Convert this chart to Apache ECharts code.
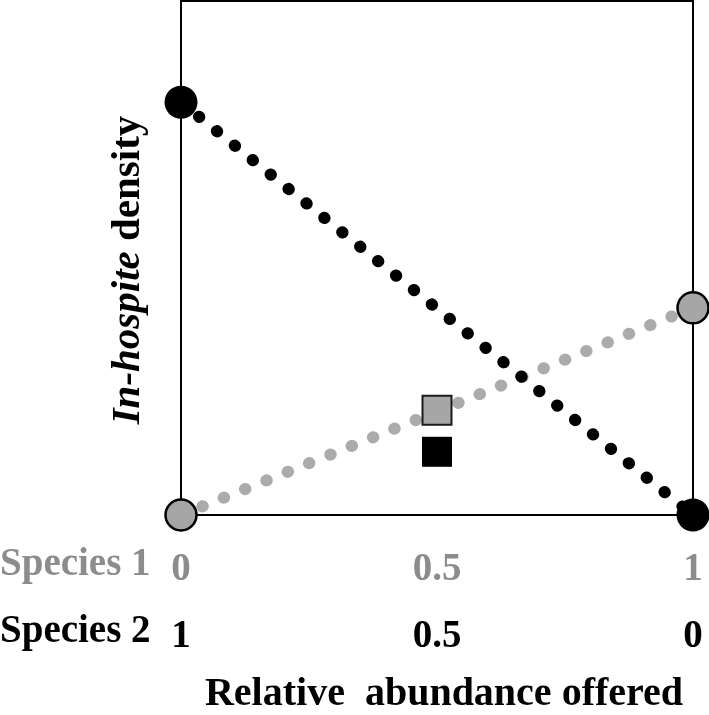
<!DOCTYPE html>
<html>
<head>
<meta charset="utf-8">
<script src="https://cdn.jsdelivr.net/npm/echarts@6/dist/echarts.min.js"></script>
<style>
  html, body { margin: 0; padding: 0; background: #fff; }
  #main { width: 709px; height: 715px; }
</style>
</head>
<body>
<div id="main"></div>
<script>
(function() {
    'use strict';

    // 数据
    var xTicks = [0, 0.5, 1];
    var species1Labels = ['0', '0.5', '1'];
    var species2Labels = ['1', '0.5', '0'];
    var rowNames = ['Species 1', 'Species 2'];
    // species 2 (black) line and species 1 (grey) line
    var blackLine = [[0, 0.803], [1, 0]];
    var greyLine = [[0, 0], [1, 0.403]];
    // observed points at 0.5
    var greySquare = [[0.5, 0.204]];
    var blackSquare = [[0.5, 0.123]];

    var FONT = '"Liberation Serif", "Times New Roman", serif';
    var GREY_TXT = '#8c8c8c';

    var myChart = echarts.init(document.getElementById('main'), null, {renderer: 'canvas'});

    var option = {
        animation: false,
        backgroundColor: '#fff',
        grid: {
            left: 181, right: 16, top: 1, bottom: 200,
            outerBoundsMode: 'none',
            containLabel: false,
            show: true, borderColor: '#000', borderWidth: 2
        },
        xAxis: {
            type: 'value', min: 0, max: 1, interval: 0.5,
            axisLine: {show: false}, axisTick: {show: false}, splitLine: {show: false},
            axisLabel: {
                margin: 21,
                verticalAlign: 'top',
                formatter: function (v) {
                    var i = xTicks.indexOf(v);
                    if (i < 0) return '';
                    return '{g|' + species1Labels[i] + '}\n{b|' + species2Labels[i] + '}';
                },
                rich: {
                    g: {fontFamily: FONT, fontWeight: 'bold', fontSize: 39, color: GREY_TXT, lineHeight: 67},
                    b: {fontFamily: FONT, fontWeight: 'bold', fontSize: 39, color: '#000', lineHeight: 67}
                }
            },
            name: 'Relative  abundance offered',
            nameLocation: 'middle',
            nameGap: 160,
            nameTextStyle: {fontFamily: FONT, fontWeight: 'bold', fontSize: 40, color: '#000', verticalAlign: 'top', padding: [0, 0, 0, 14]}
        },
        yAxis: {
            type: 'value', min: 0, max: 1,
            axisLine: {show: false}, axisTick: {show: false}, splitLine: {show: false},
            axisLabel: {show: false},
            name: '{i|In-hospite} density',
            nameLocation: 'middle',
            nameGap: 32,
            nameTextStyle: {
                fontFamily: FONT, fontWeight: 'bold', fontSize: 41, color: '#000',
                padding: [0, 24, 0, 0],
                rich: {
                    i: {fontFamily: FONT, fontWeight: 'bold', fontStyle: 'italic', fontSize: 41, color: '#000'}
                }
            }
        },
        graphic: [
            {type: 'text', left: 0, top: 545, style: {text: rowNames[0], font: 'bold 39px ' + FONT, fill: GREY_TXT}},
            {type: 'text', left: 0, top: 612, style: {text: rowNames[1], font: 'bold 39px ' + FONT, fill: '#000'}}
        ],
        series: [
            {
                type: 'line', data: greyLine, clip: false,
                symbol: 'circle', symbolSize: 31,
                itemStyle: {color: '#a6a6a6', borderColor: '#000', borderWidth: 2.5, opacity: 1},
                lineStyle: {color: '#ababab', width: 12, type: [0.5, 22.5], cap: 'round'},
                z: 2
            },
            {
                type: 'line', data: blackLine, clip: false,
                symbol: 'circle', symbolSize: 33,
                itemStyle: {color: '#000', borderColor: '#000', borderWidth: 0, opacity: 1},
                lineStyle: {color: '#000', width: 12, type: [0.5, 22.5], cap: 'round'},
                z: 3
            },
            {
                type: 'scatter', data: greySquare, symbol: 'rect', symbolSize: 29,
                itemStyle: {color: '#a6a6a6', borderColor: '#1a1a1a', borderWidth: 2, opacity: 1}, z: 4
            },
            {
                type: 'scatter', data: blackSquare, symbol: 'rect', symbolSize: 30,
                itemStyle: {color: '#000', opacity: 1}, z: 4
            }
        ]
    };

    myChart.setOption(option);
})();
</script>
</body>
</html>
